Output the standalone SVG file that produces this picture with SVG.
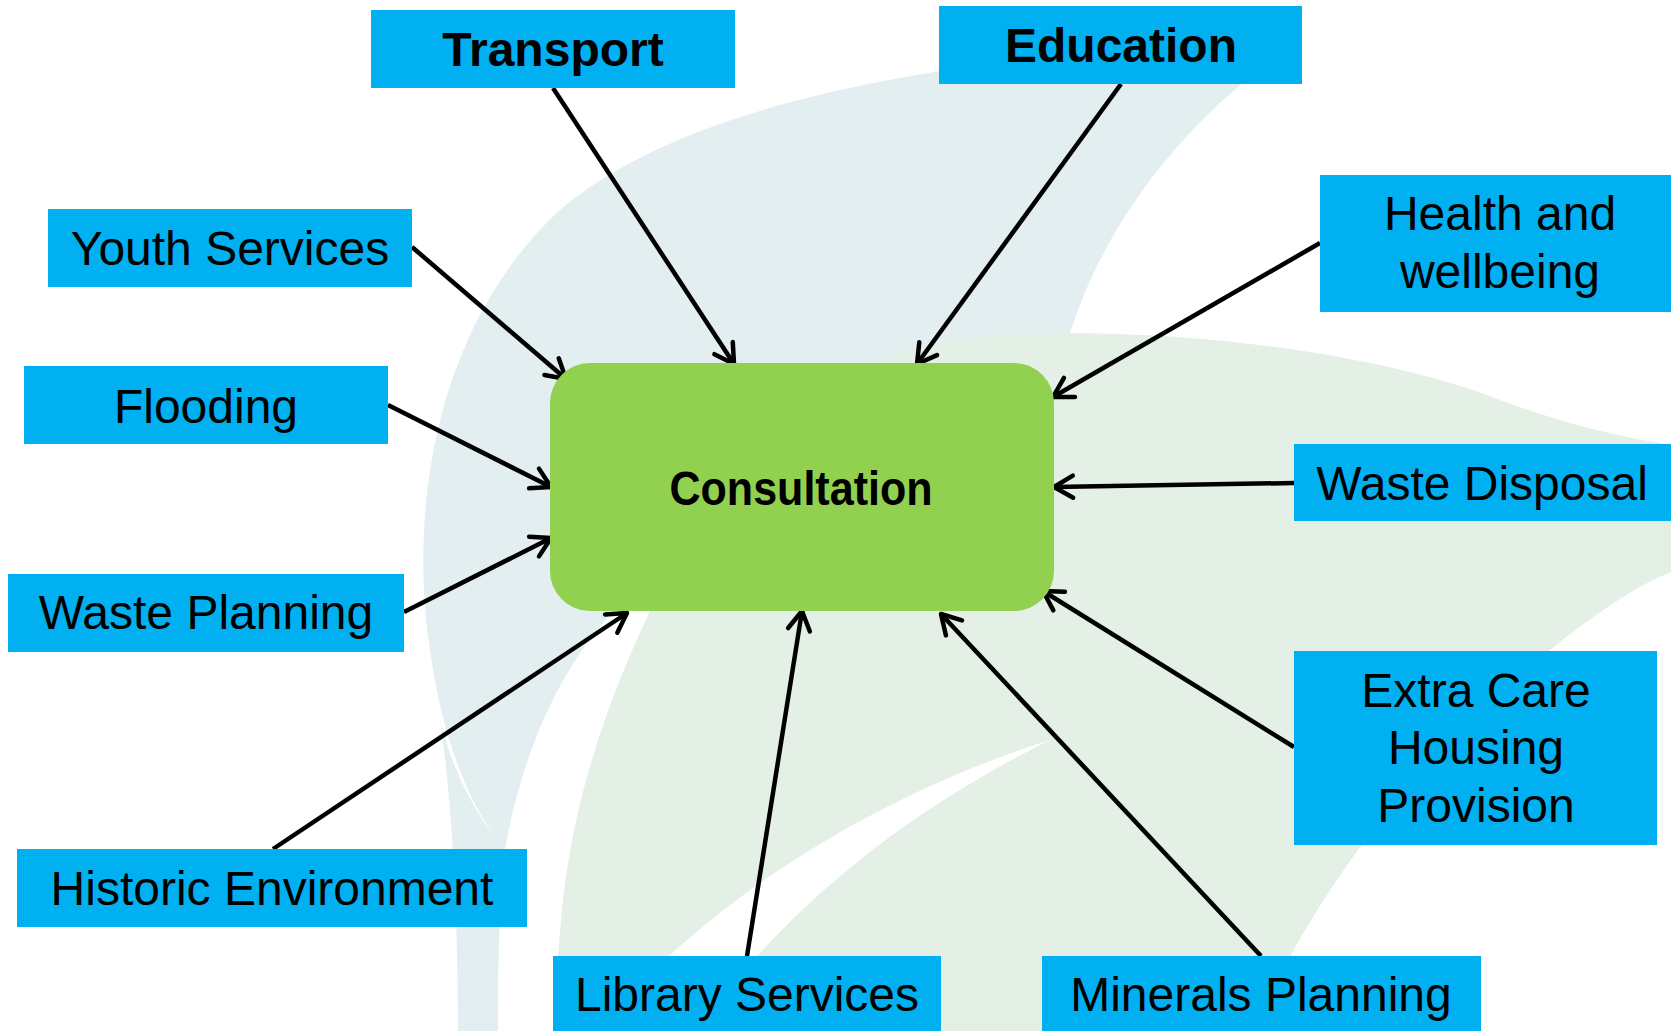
<svg xmlns="http://www.w3.org/2000/svg" width="1671" height="1031" viewBox="0 0 1671 1031">
<style>
.box{fill:#00b0f0}
.lbl{font-family:"Liberation Sans",Arial,sans-serif;font-size:48px;fill:#000;text-anchor:middle}
.b{font-weight:bold}
.conn{stroke:#000;stroke-width:4.5;fill:none;marker-end:url(#arr)}
</style>
<defs>
<marker id="arr" markerUnits="userSpaceOnUse" viewBox="-26 -16 30 32" markerWidth="30" markerHeight="32" refX="0" refY="0" orient="auto" overflow="visible">
<path d="M-19,-11 L0,0 L-19,11" fill="none" stroke="#000" stroke-width="4.5" stroke-linecap="round" stroke-linejoin="round"/>
</marker>
</defs>
<rect width="1671" height="1031" fill="#ffffff"/>
<g id="background">
<path d="M1300,40 C1000,50 700,90 560,210 C430,330 410,520 430,650 C445,760 480,820 505,850 C520,760 560,660 625,600 L700,450 C850,400 1000,380 1067,343 C1100,230 1180,120 1300,40 Z" fill="#e2eef0"/>
<path d="M440,720 C455,820 458,950 458,1031 L498,1031 C498,950 500,880 505,850 C480,820 455,780 440,720 Z" fill="#e2eef0"/>
<path d="M1000,335 C1200,325 1400,360 1500,400 C1580,430 1640,440 1671,445 L1671,572 C1600,600 1500,690 1430,760 C1370,830 1300,920 1255,1031 L557,1031 C556,900 570,780 650,611 L700,480 C800,380 900,340 1000,335 Z" fill="#e4efe6"/>
<path d="M600,1031 C690,915 860,800 1050,740 C900,815 790,905 695,1031 Z" fill="#ffffff"/>
</g>
<g id="connectors">
<line class="conn" x1="553" y1="88" x2="734" y2="364"/>
<line class="conn" x1="1121" y1="84" x2="917" y2="364"/>
<line class="conn" x1="412" y1="247" x2="566" y2="379"/>
<line class="conn" x1="388" y1="405" x2="551" y2="487"/>
<line class="conn" x1="404" y1="612" x2="551" y2="538"/>
<line class="conn" x1="273" y1="849" x2="627" y2="613"/>
<line class="conn" x1="747" y1="956" x2="802" y2="611"/>
<line class="conn" x1="1261" y1="956" x2="941" y2="614"/>
<line class="conn" x1="1294" y1="747" x2="1043" y2="591"/>
<line class="conn" x1="1294" y1="483" x2="1054" y2="487"/>
<line class="conn" x1="1320" y1="243" x2="1053" y2="397"/>
</g>
<g id="consultation">
<rect x="550" y="363" width="504" height="248" rx="40" ry="40" fill="#92d050"/>
<text class="lbl b" x="801" y="505" textLength="263" lengthAdjust="spacingAndGlyphs">Consultation</text>
</g>
<g id="transport"><rect class="box" x="371" y="10" width="364" height="78"/><text class="lbl b" x="553" y="66">Transport</text></g>
<g id="education"><rect class="box" x="939" y="6" width="363" height="78"/><text class="lbl b" x="1121" y="62">Education</text></g>
<g id="youth-services"><rect class="box" x="48" y="209" width="364" height="78"/><text class="lbl" x="230" y="265">Youth Services</text></g>
<g id="flooding"><rect class="box" x="24" y="366" width="364" height="78"/><text class="lbl" x="206" y="423">Flooding</text></g>
<g id="health"><rect class="box" x="1320" y="175" width="351" height="137"/><text class="lbl" x="1500" y="230">Health and</text><text class="lbl" x="1500" y="288">wellbeing</text></g>
<g id="waste-disposal"><rect class="box" x="1294" y="444" width="377" height="77"/><text class="lbl" x="1482" y="500">Waste Disposal</text></g>
<g id="waste-planning"><rect class="box" x="8" y="574" width="396" height="78"/><text class="lbl" x="206" y="629">Waste Planning</text></g>
<g id="historic-environment"><rect class="box" x="17" y="849" width="510" height="78"/><text class="lbl" x="272" y="905">Historic Environment</text></g>
<g id="library-services"><rect class="box" x="553" y="956" width="388" height="75"/><text class="lbl" x="747" y="1011">Library Services</text></g>
<g id="minerals-planning"><rect class="box" x="1042" y="956" width="439" height="75"/><text class="lbl" x="1261" y="1011">Minerals Planning</text></g>
<g id="extra-care"><rect class="box" x="1294" y="651" width="363" height="194"/><text class="lbl" x="1476" y="707">Extra Care</text><text class="lbl" x="1476" y="764">Housing</text><text class="lbl" x="1476" y="822">Provision</text></g>
</svg>
